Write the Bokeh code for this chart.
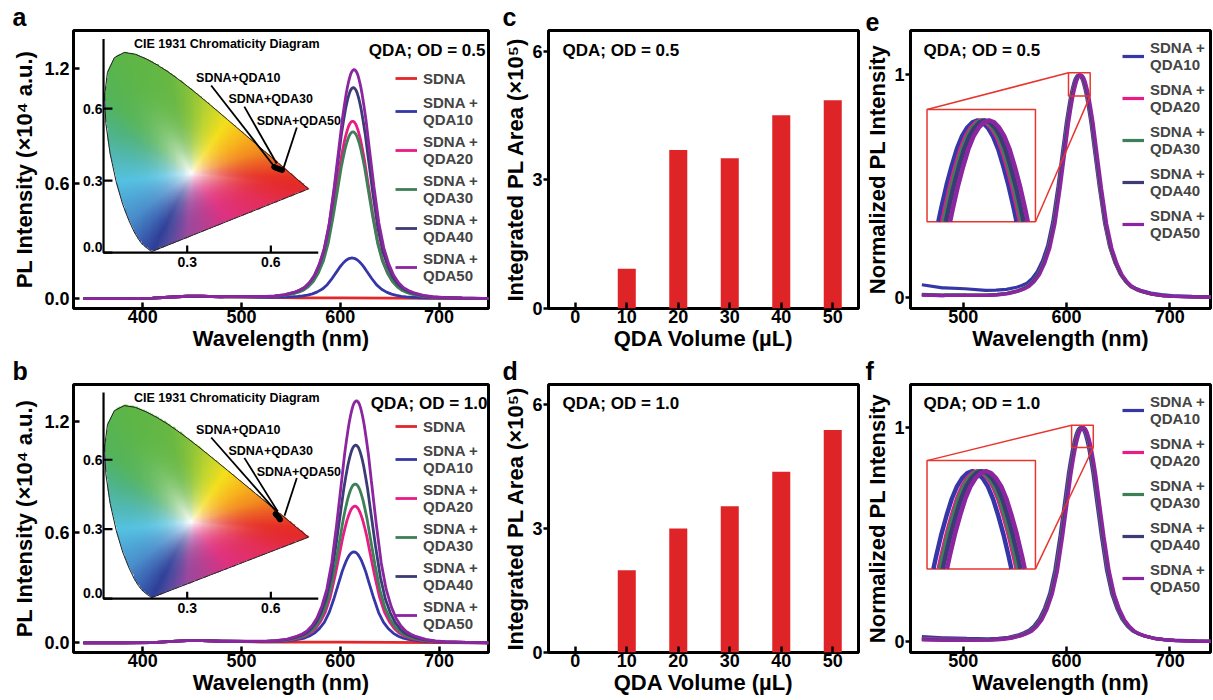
import numpy as np
from bokeh.plotting import figure
from bokeh.layouts import row, column
from bokeh.models import (Range1d, FixedTicker, Label, Legend, LegendItem,
                          PrintfTickFormatter, Title)
from bokeh.core.properties import value
from bokeh.embed import file_html
from bokeh.resources import INLINE

FONT = "Liberation Sans"

# ------------------------------------------------------------------ data
wl_range_ab = (330, 750)
pl_range = (-0.052, 1.40)
wl_range_ef = (449, 739.5)
norm_range = (-0.05, 1.2)
vol_range = (-5.2, 55)
area_range = (0, 6.49)

wl_ticks_ab = [400, 500, 600, 700]
pl_ticks = [0.0, 0.6, 1.2]
wl_ticks_ef = [500, 600, 700]
norm_ticks = [0, 1]
vol_ticks = [0, 10, 20, 30, 40, 50]
area_ticks = [0, 3, 6]

# integrated PL area (x10^5) vs QDA volume
volumes = [0, 10, 20, 30, 40, 50]
area_od05 = [0.0, 0.93, 3.70, 3.51, 4.51, 4.86]
area_od10 = [0.0, 1.99, 3.00, 3.54, 4.38, 5.39]

# QDA emission peaks (x10^4 a.u.) and peak wavelengths (nm)
qda_names = ["QDA10", "QDA20", "QDA30", "QDA40", "QDA50"]
peak_od05 = [0.209, 0.923, 0.868, 1.099, 1.193]
peak_od10 = [0.489, 0.737, 0.857, 1.068, 1.308]
center_od05 = [611.8, 612.5, 612.8, 613.2, 614.0]
center_od10 = [613.8, 614.8, 615.1, 615.6, 616.4]

# normalized QD emission band shape (offset from peak in nm -> relative intensity)
shape_offset = [-130, -110, -90, -80, -70, -60, -55, -50, -45, -40, -35, -30, -25, -20,
                -15, -12, -10, -8, -7, -6, -5, -4, -3, -2, -1, 0, 1, 2, 3, 4, 5, 6, 7, 8,
                10, 12, 15, 20, 25, 30, 35, 40, 45, 50, 55, 60, 70, 80, 90, 110, 130]
shape_value = [0.001, 0.002, 0.004, 0.007, 0.013, 0.025, 0.034, 0.046, 0.068, 0.100,
               0.150, 0.220, 0.330, 0.490, 0.670, 0.780, 0.840, 0.895, 0.918, 0.939,
               0.957, 0.973, 0.985, 0.993, 0.998, 1.000, 0.998, 0.993, 0.985, 0.973,
               0.957, 0.939, 0.918, 0.895, 0.840, 0.780, 0.670, 0.490, 0.330, 0.220,
               0.150, 0.100, 0.068, 0.046, 0.034, 0.025, 0.013, 0.007, 0.004, 0.002, 0.001]

# SDNA-only emission (x10^4 a.u.)
sdna_wl = [340, 380, 410, 430, 445, 460, 480, 500, 520, 540, 560, 600, 650, 700, 750]
sdna_od05 = [0.0, 0.0, 0.002, 0.008, 0.012, 0.012, 0.009, 0.008, 0.006, 0.005, 0.004,
             0.003, 0.002, 0.001, 0.0]
sdna_od10 = [0.0, 0.0, 0.002, 0.008, 0.012, 0.012, 0.009, 0.007, 0.005, 0.004, 0.004,
             0.004, 0.003, 0.002, 0.0]

sdna_color = "#e3262a"
qda_colors = ["#3637a6", "#ea1b84", "#3d7f57", "#3b3b76", "#8c25a0"]
bar_color = "#de2426"
zoom_red = "#e8352e"

# zoom inset of panels e / f (data coordinates)
zoom_window_e = (602, 623, 0.906, 1.01)
zoom_window_f = (605, 626, 0.906, 1.01)
zoom_box = (465, 570, 0.34, 0.845)

# CIE 1931 spectral locus (380 -> 700 nm)
locus_x = [0.1741, 0.1733, 0.1714, 0.1689, 0.1644, 0.1566, 0.1440, 0.1355, 0.1241, 0.1096,
           0.0913, 0.0687, 0.0454, 0.0235, 0.0082, 0.0039, 0.0139, 0.0389, 0.0743, 0.1142,
           0.1547, 0.1929, 0.2296, 0.2658, 0.3016, 0.3373, 0.3731, 0.4087, 0.4441, 0.4788,
           0.5125, 0.5448, 0.5752, 0.6029, 0.6270, 0.6482, 0.6658, 0.6801, 0.6915, 0.7006,
           0.7079, 0.7190, 0.7260, 0.7300, 0.7334, 0.7347]
locus_y = [0.0050, 0.0048, 0.0051, 0.0069, 0.0109, 0.0177, 0.0297, 0.0399, 0.0578, 0.0868,
           0.1327, 0.2007, 0.2950, 0.4127, 0.5384, 0.6548, 0.7502, 0.8120, 0.8338, 0.8262,
           0.8059, 0.7816, 0.7543, 0.7243, 0.6923, 0.6589, 0.6245, 0.5896, 0.5547, 0.5202,
           0.4866, 0.4544, 0.4242, 0.3965, 0.3725, 0.3514, 0.3340, 0.3197, 0.3083, 0.2993,
           0.2920, 0.2809, 0.2740, 0.2700, 0.2666, 0.2653]
white_point = (0.3127, 0.3290)
hue_angle = [-172.7, -138.4, -124.8, -113.2, -107.5, -92.8, -54.7, -24.2, -8.6, -3.1, 7.9,
             19.9, 38.3, 59.8, 78.4, 91.8, 101.1, 115.3, 133.5, 145.5, 163.9, 187.3]
hue_color = ["#55c2e2", "#4a8fcc", "#3d67b5", "#2f3f98", "#4a4a9e", "#9a4a9e", "#df3282",
             "#e42f5a", "#e52a2c", "#e63027", "#ec5a24", "#f28a20", "#f8b41c", "#f5df1c",
             "#bcd430", "#86c23c", "#68b844", "#5db646", "#55b45a", "#4fb37e", "#52b8b0",
             "#55c2e2"]
cie_axis_x = (0.0, 0.77)
cie_axis_y = (0.0, 0.89)
cie_xticks = [0.3, 0.6]
cie_yticks = [0.0, 0.3, 0.6]
cie_box = (360.4, 577.7, 0.24, 1.356)     # inset axes box in main data coordinates
cie_labels = ["SDNA+QDA10", "SDNA+QDA30", "SDNA+QDA50"]
cie_label_x = [0.332, 0.448, 0.549]
cie_label_y = [0.729, 0.638, 0.548]
cie_lead_x0 = [0.386, 0.505, 0.693]
cie_lead_y0 = [0.696, 0.608, 0.521]
cie_lead_x1_od05 = [0.610, 0.621, 0.646]
cie_lead_y1_od05 = [0.362, 0.371, 0.354]
cie_lead_x1_od10 = [0.617, 0.625, 0.649]
cie_lead_y1_od10 = [0.380, 0.376, 0.358]
cie_pts_x_od05 = [0.612, 0.618, 0.625, 0.632, 0.640]
cie_pts_y_od05 = [0.357, 0.353, 0.350, 0.347, 0.344]
cie_pts_x_od10 = [0.617, 0.621, 0.626, 0.630, 0.633]
cie_pts_y_od10 = [0.366, 0.360, 0.354, 0.348, 0.342]


# ------------------------------------------------------------------ helpers
def spectrum(center, height, bg_wl, bg_val):
    pk_x = center + np.array(shape_offset, float)
    lo = [w for w in bg_wl if w < pk_x[0]]
    hi = [w for w in bg_wl if w > pk_x[-1]]
    x = np.concatenate([lo, pk_x, hi])
    y = np.interp(x, bg_wl, bg_val) + np.concatenate(
        [np.zeros(len(lo)), height * np.array(shape_value), np.zeros(len(hi))])
    return x, y


def map_range(rng, box0, box1, tgt0, tgt1):
    k = (tgt1 - tgt0) / (box1 - box0)
    return Range1d(tgt0 + (rng[0] - box0) * k, tgt0 + (rng[1] - box0) * k)


def make_fig(w, h, xr, yr, bl, br, bt, bb, xticks, yticks, xlabel, ylabel, y_in,
             letter, letter_dx, yfmt=None):
    p = figure(width=w, height=h, x_range=Range1d(*xr), y_range=Range1d(*yr),
               output_backend="svg", toolbar_location=None,
               min_border_left=bl, min_border_right=br, min_border_top=bt,
               min_border_bottom=bb)
    p.title = Title(text=letter, align="left", offset=letter_dx, standoff=0,
                    text_font=FONT, text_font_size="25px", text_font_style="bold",
                    text_color="black", vertical_align="bottom")
    p.xgrid.visible = False
    p.ygrid.visible = False
    p.outline_line_color = "black"
    p.outline_line_width = 3
    p.outline_line_alpha = 1
    xa, ya = p.xaxis[0], p.yaxis[0]
    xa.ticker = FixedTicker(ticks=xticks)
    ya.ticker = FixedTicker(ticks=yticks)
    if yfmt:
        ya.formatter = PrintfTickFormatter(format=yfmt)
    for ax in (xa, ya):
        ax.axis_line_color = None
        ax.major_tick_line_color = "black"
        ax.major_tick_line_width = 2.5
        ax.minor_tick_line_color = None
        ax.major_label_text_font = FONT
        ax.major_label_text_font_size = "18px"
        ax.major_label_text_font_style = "bold"
        ax.major_label_text_color = "black"
        ax.axis_label_text_font = FONT
        ax.axis_label_text_font_size = "22px"
        ax.axis_label_text_font_style = "bold"
        ax.axis_label_text_color = "black"
    xa.major_tick_in = 6
    xa.major_tick_out = 0
    xa.major_label_standoff = 1
    xa.axis_label_standoff = 0
    if y_in:
        ya.major_tick_in = 6
        ya.major_tick_out = 0
        ya.major_label_standoff = 4
        ya.axis_label_standoff = 4
    else:
        ya.major_tick_in = 0
        ya.major_tick_out = 5
        ya.major_label_standoff = 1
        ya.axis_label_standoff = 1
    xa.axis_label = xlabel
    ya.axis_label = ylabel
    return p


def add_text(p, x, y, text, size, align="left", baseline="alphabetic"):
    p.add_layout(Label(x=x, y=y, x_units="screen", y_units="screen", text=text,
                       text_font=FONT, text_font_size=size, text_font_style="bold",
                       text_align=align, text_baseline=baseline, text_color="black"))


def style_legend(leg, spacing, glyph_w=22, glyph_h=16, standoff=6):
    leg.label_text_font = FONT
    leg.label_text_font_size = "15px"
    leg.label_text_font_style = "bold"
    leg.label_text_line_height = 1.15
    leg.glyph_width = glyph_w
    leg.glyph_height = glyph_h
    leg.label_standoff = standoff
    leg.label_height = 16
    leg.spacing = spacing
    leg.padding = 0
    leg.margin = 0
    leg.border_line_color = None
    leg.background_fill_alpha = 0


def cie_image(nx=240, ny=280):
    bx = list(locus_x)
    by = list(locus_y)
    for t in np.linspace(0, 1, 14)[1:-1]:
        bx.append(locus_x[-1] + t * (locus_x[0] - locus_x[-1]))
        by.append(locus_y[-1] + t * (locus_y[0] - locus_y[-1]))
    bx, by = np.array(bx), np.array(by)
    dw = cie_axis_x[1] - cie_axis_x[0]
    dh = cie_axis_y[1] - cie_axis_y[0]
    xs = (np.arange(nx) + 0.5) * dw / nx
    ys = (np.arange(ny) + 0.5) * dh / ny
    PX, PY = np.meshgrid(xs, ys)
    inside = np.zeros(PX.shape, bool)
    n = len(bx)
    j = n - 1
    for i in range(n):
        xi, yi, xj, yj = bx[i], by[i], bx[j], by[j]
        cond = ((yi > PY) != (yj > PY)) & (PX < (xj - xi) * (PY - yi) / (yj - yi + 1e-12) + xi)
        inside ^= cond
        j = i
    wx, wy = white_point
    b_ang = np.degrees(np.arctan2(by - wy, bx - wx))
    b_rad = np.hypot(bx - wx, by - wy)
    order = np.argsort(b_ang)
    ba, br = b_ang[order], b_rad[order]
    ba = np.concatenate([ba[-1:] - 360, ba, ba[:1] + 360])
    br = np.concatenate([br[-1:], br, br[:1]])
    ang = np.degrees(np.arctan2(PY - wy, PX - wx))
    rb = np.interp(ang, ba, br)
    ang = np.where(ang < hue_angle[0], ang + 360, ang)
    rad = np.hypot(PX - wx, PY - wy)
    s = np.clip(rad / rb, 0, 1)
    f = 1 - (1 - s) ** 3.4
    rgb_anchor = np.array([[int(c[1:3], 16), int(c[3:5], 16), int(c[5:7], 16)] for c in hue_color], float)
    img = np.zeros((ny, nx), dtype=np.uint32)
    view = img.view(dtype=np.uint8).reshape((ny, nx, 4))
    for k in range(3):
        ch = np.interp(ang, hue_angle, rgb_anchor[:, k])
        view[:, :, k] = np.clip(255 - (255 - ch) * f, 0, 255).astype(np.uint8)
    view[:, :, 3] = np.where(inside, 255, 0)
    return img, dw, dh


CIE_IMG, CIE_DW, CIE_DH = cie_image()
TXT = dict(text_font=value(FONT), text_font_style="bold", text_color="black")


def add_cie_inset(p, xr, yr, lead_x1, lead_y1, pts_x, pts_y):
    p.extra_x_ranges = {"cie_x": map_range(xr, cie_box[0], cie_box[1], *cie_axis_x)}
    p.extra_y_ranges = {"cie_y": map_range(yr, cie_box[2], cie_box[3], *cie_axis_y)}
    kw = dict(x_range_name="cie_x", y_range_name="cie_y")
    p.image_rgba(image=[CIE_IMG], x=cie_axis_x[0], y=cie_axis_y[0], dw=CIE_DW, dh=CIE_DH, **kw)
    p.line(locus_x + [locus_x[0]], locus_y + [locus_y[0]], line_color="#222222",
           line_width=1, **kw)
    # inset axes
    p.line([cie_axis_x[0], cie_axis_x[0], cie_axis_x[1]],
           [cie_axis_y[1], cie_axis_y[0], cie_axis_y[0]], line_color="black", line_width=2.2, **kw)
    p.segment(x0=cie_xticks, y0=[0] * len(cie_xticks), x1=cie_xticks,
              y1=[0.03] * len(cie_xticks), line_color="black", line_width=2.2, **kw)
    p.segment(x0=[0] * len(cie_yticks), y0=cie_yticks, x1=[0.032] * len(cie_yticks),
              y1=cie_yticks, line_color="black", line_width=2.2, **kw)
    p.text(x=cie_xticks, y=[0] * len(cie_xticks), text=[f"{t:.1f}" for t in cie_xticks],
           text_align="center", text_baseline="top", y_offset=4, text_font_size="14px",
           **TXT, **kw)
    p.text(x=[0] * len(cie_yticks), y=cie_yticks, text=[f"{t:.1f}" for t in cie_yticks],
           text_align="right", text_baseline="middle", x_offset=-1,
           y_offset=[-6 if t == 0 else 0 for t in cie_yticks], text_font_size="14px",
           **TXT, **kw)
    p.text(x=[(cie_axis_x[0] + cie_axis_x[1]) / 2 + 0.057], y=[cie_axis_y[1] - 0.022],
           text=["CIE 1931 Chromaticity Diagram"], text_align="center", text_baseline="middle",
           text_font_size="12.5px", **TXT, **kw)
    p.segment(x0=cie_lead_x0, y0=cie_lead_y0, x1=lead_x1, y1=lead_y1, line_color="black",
              line_width=1.8, **kw)
    p.scatter(x=pts_x, y=pts_y, size=5, color="black", **kw)
    p.text(x=cie_label_x, y=cie_label_y, text=cie_labels, text_align="left",
           text_baseline="middle", text_font_size="12.5px", **TXT, **kw)


# ------------------------------------------------------------------ panels
# page origin is the top-left corner; widths 500 + 362 + 350, heights 354 + 344
FW1, FW2, FW3 = 415, 314, 302
ROW1 = dict(bt=29, fh=279, bb=46, leg_a=24, leg_e=67)
ROW2 = dict(bt=28, fh=270, bb=46, leg_a=20, leg_e=57)


def spectra_panel(letter, od_text, od_dx, peaks, centers, sdna_val, lead_x1, lead_y1,
                  pts_x, pts_y, rc):
    fh = rc["fh"]
    h = rc["bt"] + fh + rc["bb"]
    p = make_fig(73 + FW1 + 12, h, wl_range_ab, pl_range, 73, 12, rc["bt"], rc["bb"],
                 wl_ticks_ab, pl_ticks, "Wavelength (nm)", "PL Intensity (×10⁴ a.u.)", True,
                 letter, -61, yfmt="%.1f")
    add_cie_inset(p, wl_range_ab, pl_range, lead_x1, lead_y1, pts_x, pts_y)
    rs = [p.line(sdna_wl, sdna_val, line_color=sdna_color, line_width=2.8)]
    for c, hgt, col in zip(centers, peaks, qda_colors):
        x, y = spectrum(c, hgt, sdna_wl, sdna_val)
        rs.append(p.line(x, y, line_color=col, line_width=2.8))
    labels = ["SDNA"] + [f"SDNA +\n{n}" for n in qda_names]
    leg = Legend(items=[LegendItem(label=l, renderers=[r]) for l, r in zip(labels, rs)],
                 location=(322, rc["leg_a"]))
    style_legend(leg, 5, glyph_h=22)
    p.add_layout(leg)
    add_text(p, FW1 - od_dx, fh - 21, od_text, "17px", align="right")
    return p


def bar_panel(letter, od_text, areas, rc):
    fh = rc["fh"]
    h = rc["bt"] + fh + rc["bb"]
    p = make_fig(44 + FW2 + 4, h, vol_range, area_range, 44, 4, rc["bt"], rc["bb"],
                 vol_ticks, area_ticks, "QDA Volume (µL)", "Integrated PL Area (×10⁵)", False,
                 letter, -46)
    p.vbar(x=volumes, top=areas, width=3.5, fill_color=bar_color, line_color=None)
    add_text(p, 14, fh - 21, od_text, "17px")
    return p


def norm_panel(letter, od_text, peaks, centers, sdna_val, window, rc):
    fh = rc["fh"]
    h = rc["bt"] + fh + rc["bb"]
    p = make_fig(46 + FW3 + 2, h, wl_range_ef, norm_range, 46, 2, rc["bt"], rc["bb"],
                 wl_ticks_ef, norm_ticks, "Wavelength (nm)", "Normalized PL Intensity", False,
                 letter, -45)
    curves = []
    rs = []
    for c, hgt, col in zip(centers, peaks, qda_colors):
        x, y = spectrum(c, hgt, sdna_wl, sdna_val)
        keep = x >= 458
        x, y = x[keep], y[keep] / y.max()
        curves.append((x, y, col))
        rs.append(p.line(x, y, line_color=col, line_width=3.2))
    wx0, wx1, wy0, wy1 = window
    bx0, bx1, by0, by1 = zoom_box
    # zoom window, connectors, inset box
    p.quad(left=[wx0], right=[wx1], bottom=[wy0], top=[wy1], fill_color=None,
           line_color=zoom_red, line_width=1.5)
    p.segment(x0=[wx0, wx1], y0=[wy1, wy0], x1=[bx0, bx1], y1=[by1, by0],
              line_color=zoom_red, line_width=1.5)
    p.quad(left=[bx0], right=[bx1], bottom=[by0], top=[by1], fill_color="white",
           line_color=zoom_red, line_width=1.5)
    p.extra_x_ranges = {"zx": map_range(wl_range_ef, bx0, bx1, wx0, wx1)}
    p.extra_y_ranges = {"zy": map_range(norm_range, by0, by1, wy0, wy1)}
    for x, y, col in curves:
        idx = np.where(y >= wy0)[0]
        i0, i1 = idx[0], idx[-1]
        xl = x[i0 - 1] + (wy0 - y[i0 - 1]) * (x[i0] - x[i0 - 1]) / (y[i0] - y[i0 - 1])
        xr = x[i1] + (wy0 - y[i1]) * (x[i1 + 1] - x[i1]) / (y[i1 + 1] - y[i1])
        zx = [xl] + list(x[i0:i1 + 1]) + [xr]
        zy = [wy0] + list(y[i0:i1 + 1]) + [wy0]
        p.line(zx, zy, line_color=col, line_width=4.5, x_range_name="zx", y_range_name="zy")
    labels = [f"SDNA +\n{n}" for n in qda_names]
    leg = Legend(items=[LegendItem(label=l, renderers=[r]) for l, r in zip(labels, rs)],
                 location=(212, rc["leg_e"]))
    style_legend(leg, 8, glyph_w=22, standoff=6)
    p.add_layout(leg)
    add_text(p, 13, fh - 21, od_text, "17px")
    return p


pa = spectra_panel("a", "QDA; OD = 0.5", 3, peak_od05, center_od05, sdna_od05,
                   cie_lead_x1_od05, cie_lead_y1_od05, cie_pts_x_od05, cie_pts_y_od05, ROW1)
pb = spectra_panel("b", "QDA; OD = 1.0", 1, peak_od10, center_od10, sdna_od10,
                   cie_lead_x1_od10, cie_lead_y1_od10, cie_pts_x_od10, cie_pts_y_od10, ROW2)
pc = bar_panel("c", "QDA; OD = 0.5", area_od05, ROW1)
pd = bar_panel("d", "QDA; OD = 1.0", area_od10, ROW2)
pe = norm_panel("e", "QDA; OD = 0.5", peak_od05, center_od05, sdna_od05, zoom_window_e, ROW1)
pf = norm_panel("f", "QDA; OD = 1.0", peak_od10, center_od10, sdna_od10, zoom_window_f, ROW2)

layout = column(row(pa, pc, pe), row(pb, pd, pf))

with open("out.html", "w") as fh:
    fh.write(file_html(layout, INLINE))
